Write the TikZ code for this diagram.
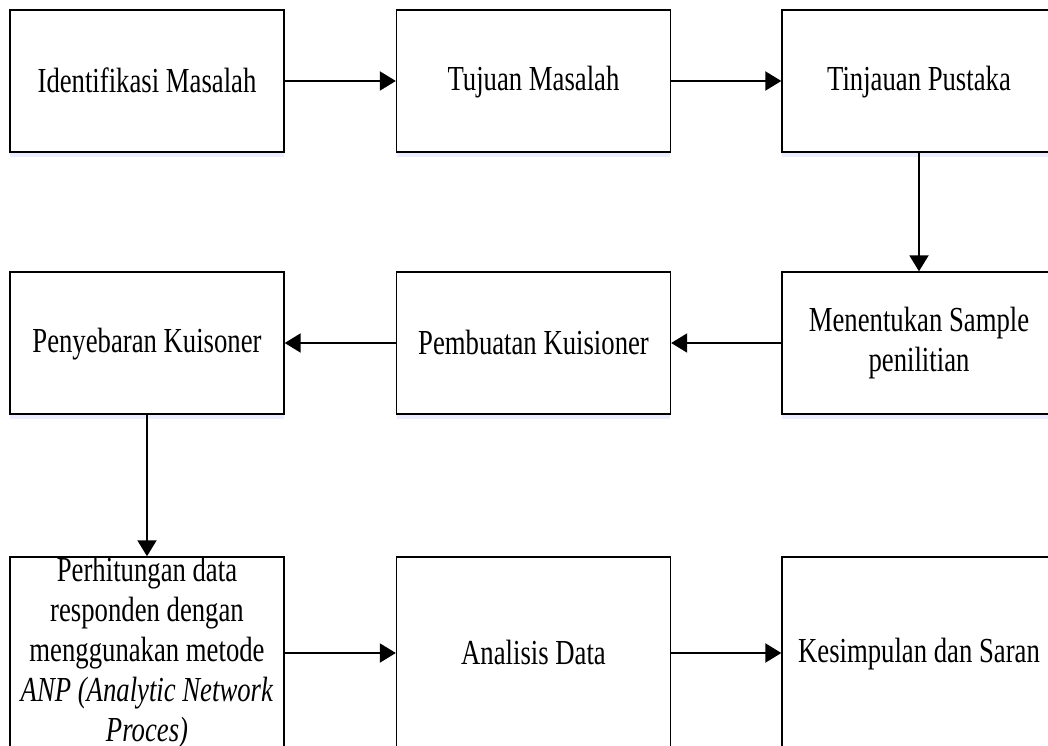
\documentclass[tikz,border=0pt]{standalone}
\usepackage{fontspec}
\setmainfont{Liberation Serif}[FakeStretch=0.76]
\usepackage{tikz}
\usetikzlibrary{arrows.meta}
\usetikzlibrary{shadows}
\usetikzlibrary{positioning}

\newcommand{\topstrut}{\rule{0pt}{15pt}}
\newcommand{\botstrut}{\rule[-2pt]{0pt}{2pt}}

\begin{document}
\begin{tikzpicture}[x=0.02cm, y=-0.02cm,
    box/.style={draw=black, line width=0.8pt, fill=white, inner sep=0pt,
      minimum width=5.48cm, minimum height=2.84cm, align=center,
      font=\fontsize{20}{22.8}\selectfont,
      execute at begin node={\topstrut}, execute at end node={\botstrut},
      drop shadow={shadow xshift=0pt, shadow yshift=-3pt, fill=blue!12, opacity=0.6}},
    tallbox/.style={box, minimum height=3.84cm},
    arr/.style={-{Triangle[length=0.32cm, width=0.38cm]}, line width=1.15pt}]
    \useasboundingbox (0,0) rectangle (1048,746);
    \clip (0,0) rectangle (1048,746);
    \node[box] (A) at (147,81) {Identifikasi Masalah};
    \node[box] (B) at (533.5,81) {Tujuan Masalah};
    \node[box] (C) at (919,81) {Tinjauan Pustaka};
    \node[box] (D) at (919,343) {Menentukan Sample\\penilitian};
    \node[box] (E) at (533.5,343) {Pembuatan Kuisioner};
    \node[box] (F) at (147,343) {Penyebaran Kuisoner};
    \node[tallbox] (G) at (147,653) {Perhitungan data\\responden dengan\\menggunakan metode\\\textit{ANP (Analytic Network}\\\textit{Proces)}};
    \node[tallbox] (H) at (533.5,653) {Analisis Data};
    \node[tallbox] (I) at (919,653) {Kesimpulan dan Saran};
    \path [arr] (A) edge (B);
    \path [arr] (B) edge (C);
    \path [arr] (C) edge (D);
    \path [arr] (D) edge (E);
    \path [arr] (E) edge (F);
    \path [arr] (F) edge (G);
    \path [arr] (G) edge (H);
    \path [arr] (H) edge (I);
  \end{tikzpicture}
\end{document}
